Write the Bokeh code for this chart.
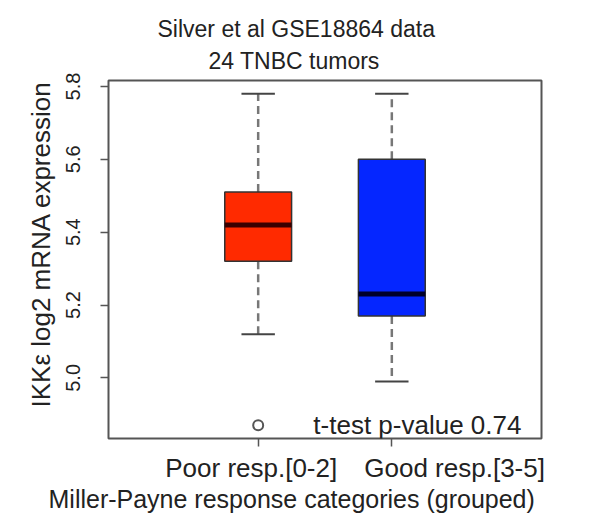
import math
from bokeh.plotting import figure
from bokeh.models import FixedTicker, LinearAxis, Range1d, Title, Label, NumeralTickFormatter
from bokeh.embed import file_html
from bokeh.resources import INLINE

# ---- data ----
title_lines = ["Silver et al GSE18864 data", "24 TNBC tumors"]
categories = ["Poor resp.[0-2]", "Good resp.[3-5]"]
positions = [1, 2]
lower_whisker = [5.12, 4.99]
q1 = [5.32, 5.17]
median = [5.42, 5.23]
q3 = [5.51, 5.60]
upper_whisker = [5.78, 5.78]
box_colors = ["#ff2a00", "#0526ff"]
median_colors = ["#3a0000", "#00002a"]
outlier_group = [1]
outlier_values = [4.87]
y_ticks = [5.0, 5.2, 5.4, 5.6, 5.8]
y_label = "IKK\u03b5 log2 mRNA expression"
x_label = "Miller-Payne response categories (grouped)"
annotation = "t-test p-value 0.74"
label_positions = [0.948, 2.47]

FONT = "Liberation Sans"
TXT = "#222222"

lo = min(lower_whisker + outlier_values)
hi = max(upper_whisker)
pad = 0.04 * (hi - lo)

p = figure(width=579, height=515, output_backend="svg", toolbar_location=None,
           x_range=Range1d(-0.12, 3.12), y_range=Range1d(lo - pad, hi + pad),
           x_axis_location=None,
           min_border_left=108, min_border_right=38, min_border_top=80, min_border_bottom=77)
p.grid.grid_line_color = None
p.outline_line_color = "#555555"
p.outline_line_width = 2
p.background_fill_color = "white"
p.border_fill_color = "white"

# titles
t2 = Title(text=title_lines[1], align="left", offset=100, text_font_size="23px",
           text_font=FONT, text_font_style="normal", text_color=TXT, standoff=13)
t1 = Title(text=title_lines[0], align="left", offset=49, text_font_size="23px",
           text_font=FONT, text_font_style="normal", text_color=TXT, standoff=-4)
p.add_layout(t2, "above")
p.add_layout(t1, "above")

# y axis
ya = p.yaxis[0]
ya.ticker = FixedTicker(ticks=y_ticks)
ya.formatter = NumeralTickFormatter(format="0.0")
ya.major_label_orientation = "vertical"
ya.major_label_text_font_size = "20px"
ya.major_label_text_font = FONT
ya.major_label_text_color = TXT
ya.major_tick_out = 8
ya.major_tick_in = 0
ya.major_tick_line_color = "#555555"
ya.major_tick_line_width = 1.5
ya.minor_tick_line_color = None
ya.axis_line_color = None
ya.major_label_standoff = 20

# y axis title (as a left-side title so it can be offset like the original)
ytitle = Title(text=y_label, align="left", offset=31, text_font_size="26px",
               text_font=FONT, text_font_style="normal", text_color=TXT, standoff=15)
p.add_layout(ytitle, "left")

# x axis: tick marks at box positions
xa1 = LinearAxis(ticker=FixedTicker(ticks=positions),
                 major_label_overrides={pos: " " for pos in positions},
                 major_label_text_font_size="1px", major_label_standoff=0,
                 major_tick_out=8, major_tick_in=0, major_tick_line_color="#555555",
                 major_tick_line_width=1.5, minor_tick_line_color=None,
                 axis_line_color=None)
p.add_layout(xa1, "below")
# x axis: category labels
xa2 = LinearAxis(ticker=FixedTicker(ticks=label_positions),
                 major_label_overrides={lp: c for lp, c in zip(label_positions, categories)},
                 major_label_text_font_size="26px", major_label_text_font=FONT,
                 major_label_text_color=TXT, major_label_standoff=2,
                 major_tick_out=0, major_tick_in=0, major_tick_line_color=None,
                 minor_tick_line_color=None, axis_line_color=None)
p.add_layout(xa2, "below")
xtitle = Title(text=x_label, align="left", offset=-60, text_font_size="25px",
               text_font=FONT, text_font_style="normal", text_color=TXT, standoff=-6)
p.add_layout(xtitle, "below")

# whiskers
p.segment(x0=positions, y0=q3, x1=positions, y1=upper_whisker,
          line_color="#777777", line_width=2.5, line_dash="8 5")
p.segment(x0=positions, y0=q1, x1=positions, y1=lower_whisker,
          line_color="#777777", line_width=2.5, line_dash="8 5")
cap = 0.125
p.segment(x0=[x - cap for x in positions], y0=upper_whisker,
          x1=[x + cap for x in positions], y1=upper_whisker,
          line_color="#444444", line_width=2)
p.segment(x0=[x - cap for x in positions], y0=lower_whisker,
          x1=[x + cap for x in positions], y1=lower_whisker,
          line_color="#444444", line_width=2)

# boxes
p.vbar(x=positions, width=0.5, bottom=q1, top=q3, fill_color=box_colors,
       line_color="#333333", line_width=1.5)
half = 0.25
p.segment(x0=[x - half for x in positions], y0=median,
          x1=[x + half for x in positions], y1=median,
          line_color=median_colors, line_width=5)

# outlier
p.scatter(x=outlier_group, y=outlier_values, marker="circle", size=10,
          fill_color=None, line_color="#555555", line_width=2)

# annotation
p.add_layout(Label(x=2.97, y=outlier_values[0], text=annotation, text_align="right",
                   text_baseline="middle", text_font_size="26px", text_font=FONT,
                   text_color=TXT))

open("out.html", "w").write(file_html(p, INLINE))
